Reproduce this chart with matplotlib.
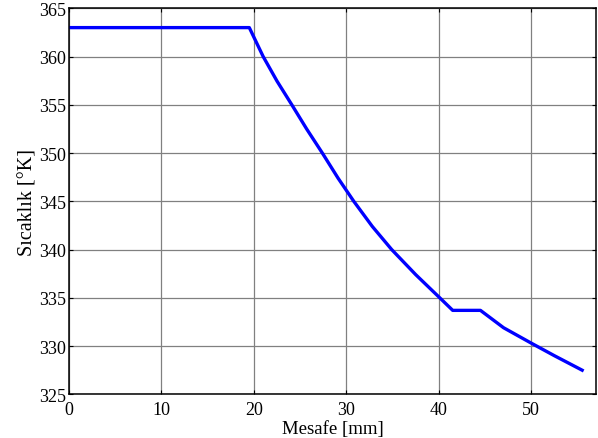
import matplotlib
matplotlib.use("Agg")
import matplotlib.pyplot as plt

# Veri
mesafe = [0, 19.5, 21.0, 22.5, 24.1, 25.7, 27.4, 29.1, 30.8, 32.8, 34.9, 37.5, 40.1,
          41.5, 44.5, 47.0, 50.0, 52.5, 55.5]
sicaklik = [363.0, 363.0, 360.0, 357.45, 355.0, 352.5, 350.0, 347.4, 345.0, 342.4, 340.0,
            337.4, 335.0, 333.7, 333.7, 331.9, 330.3, 329.0, 327.5]
x_ticks = [0, 10, 20, 30, 40, 50]
y_ticks = [325, 330, 335, 340, 345, 350, 355, 360, 365]

plt.rcParams["font.family"] = ["Liberation Serif", "DejaVu Serif"]

fig = plt.figure(figsize=(5.98, 4.39), dpi=100)
ax = fig.add_axes([0.1154, 0.0995, 0.8813, 0.8793])

ax.plot(mesafe, sicaklik, color="#0000ff", linewidth=2.4)

ax.set_xlim(0, 57)
ax.set_ylim(325, 365)
ax.set_xticks(x_ticks)
ax.set_yticks(y_ticks)
ax.grid(True, color="#808080", linewidth=0.9)
ax.set_axisbelow(True)

ax.tick_params(direction="in", length=3, width=0.8, top=True, right=True,
               labelsize=13)
ax.tick_params(axis="x", pad=5)
ax.tick_params(axis="y", pad=2)
for sp in ax.spines.values():
    sp.set_linewidth(1.1)

ax.set_xlabel("Mesafe [mm]", fontsize=13.5, labelpad=1)
ax.set_ylabel("Sıcaklık [°K]", fontsize=14.5, labelpad=1)

fig.savefig("out.png", dpi=100)
